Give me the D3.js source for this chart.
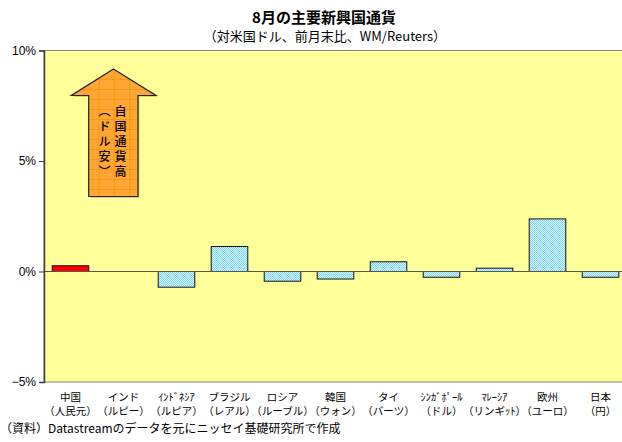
<!DOCTYPE html>
<html>
<head>
<meta charset="utf-8">
<script src="https://cdn.jsdelivr.net/npm/d3@7"></script>
<style>
    body { margin: 0; background: #fff; }
    svg { display: block; }
</style>
</head>
<body>
<div id="chart"></div>
<script>
// data
const countries = ["中国", "インド", "ｲﾝﾄﾞﾈｼｱ", "ブラジル", "ロシア", "韓国", "タイ", "ｼﾝｶﾞﾎﾟｰﾙ", "ﾏﾚｰｼｱ", "欧州", "日本"];
const currencies = ["（人民元）", "（ルピー）", "（ルピア）", "（レアル）", "（ルーブル）", "（ウォン）", "（バーツ）", "（ドル）", "（リンギｯﾄ）", "（ユーロ）", "（円）"];
const changes = [0.26, 0.0, -0.71, 1.13, -0.44, -0.34, 0.44, -0.26, 0.15, 2.38, -0.26];
const yTicks = [-5, 0, 5, 10];

const titleText = "8月の主要新興国通貨";
const subtitleText = "（対米国ドル、前月末比、WM/Reuters）";
const sourceText = "（資料）Datastreamのデータを元にニッセイ基礎研究所で作成";
const arrowRight = "自国通貨高";
const arrowLeft = "（ドル安）";

const
    width = 622,
    height = 442,
    plot = { left: 44, right: 627, top: 50.5, bottom: 382 };

const colors = {
    plotBg: "#ffff99",
    frame: "#808080",
    axis: "#404040",
    china: "#ff0000",
    arrow: "#ffa634",
    arrowGrid: "#f59a10",
    text: "#000"
};

const svg = d3.select("#chart")
    .append("svg")
    .attr("width", width)
    .attr("height", height)
    .attr("viewBox", [0, 0, width, height])
    .style("font-family", "'Liberation Sans', Arial, 'Noto Sans CJK JP', sans-serif");

const defs = svg.append("defs");

// dotted light-blue fill like the excel pattern
const pat = defs.append("pattern")
    .attr("id", "dots")
    .attr("width", 2)
    .attr("height", 2)
    .attr("patternUnits", "userSpaceOnUse");
pat.append("rect").attr("width", 2).attr("height", 2).attr("fill", "#d8f6ff");
pat.append("rect").attr("width", 1).attr("height", 1).attr("fill", "#7fd3f2");
pat.append("rect").attr("x", 1).attr("y", 1).attr("width", 1).attr("height", 1).attr("fill", "#7fd3f2");

const x = d3.scaleBand()
    .domain(countries)
    .range([plot.left, plot.right])
    .paddingInner(0.31)
    .paddingOuter(0.155);

const y = d3.scaleLinear()
    .domain([-5, 10])
    .range([plot.bottom, plot.top]);

// plot area
svg.append("rect")
    .attr("x", plot.left)
    .attr("y", plot.top)
    .attr("width", plot.right - plot.left)
    .attr("height", plot.bottom - plot.top)
    .attr("fill", colors.plotBg)
    .attr("stroke", colors.frame)
    .attr("stroke-width", 1);

// arrow "自国通貨高"
const ax = 113.5;
const arrowPts = [
    [ax, 69], [156, 95.5], [138, 95.5], [138, 196.5],
    [88.7, 196.5], [88.7, 95.5], [71.3, 95.5]
];
defs.append("clipPath").attr("id", "arrowClip")
    .append("polygon").attr("points", arrowPts.map(p => p.join(",")).join(" "));

svg.append("polygon")
    .attr("points", arrowPts.map(p => [p[0] + 1.5, p[1] + 1.5].join(",")).join(" "))
    .attr("fill", "#b8b070")
    .attr("opacity", 0.6);
svg.append("polygon")
    .attr("points", arrowPts.map(p => p.join(",")).join(" "))
    .attr("fill", colors.arrow);

const grid = svg.append("g").attr("clip-path", "url(#arrowClip)")
    .attr("stroke", colors.arrowGrid)
    .attr("stroke-width", 1);
d3.range(69, 200, 15.3).forEach(gx => grid.append("line")
    .attr("x1", gx - 0.5).attr("x2", gx - 0.5).attr("y1", 60).attr("y2", 200));
d3.range(69, 200, 10).forEach(gy => grid.append("line")
    .attr("x1", 60).attr("x2", 160).attr("y1", gy + 0.5).attr("y2", gy + 0.5));

svg.append("polygon")
    .attr("points", arrowPts.map(p => p.join(",")).join(" "))
    .attr("fill", "none")
    .attr("stroke", "#222")
    .attr("stroke-width", 1.2);

[[arrowRight, 120.5], [arrowLeft, 104.5]].forEach(([t, cx]) => {
    svg.append("text")
        .attr("x", cx)
        .attr("y", 105)
        .attr("writing-mode", "vertical-rl")
        .style("font-family", "'Noto Sans CJK JP', sans-serif")
        .style("font-size", "12px")
        .style("font-weight", "500")
        .style("letter-spacing", "3px")
        .attr("fill", colors.text)
        .text(t);
});

// bars
svg.append("g")
    .selectAll("rect")
    .data(countries)
    .join("rect")
    .attr("x", d => x(d))
    .attr("width", x.bandwidth())
    .attr("y", (d, i) => y(Math.max(0, changes[i])))
    .attr("height", (d, i) => Math.abs(y(changes[i]) - y(0)))
    .attr("fill", (d, i) => i === 0 ? colors.china : "url(#dots)")
    .attr("stroke", (d, i) => changes[i] === 0 ? "none" : "#111")
    .attr("stroke-width", 1);

// zero line
svg.append("line")
    .attr("x1", plot.left)
    .attr("x2", plot.right)
    .attr("y1", y(0))
    .attr("y2", y(0))
    .attr("stroke", "#555")
    .attr("stroke-width", 1.2);

// y axis
const yAxis = svg.append("g")
    .attr("transform", `translate(${plot.left},0)`)
    .call(d3.axisLeft(y)
        .tickValues(yTicks)
        .tickSize(5)
        .tickPadding(3)
        .tickFormat(d => (d < 0 ? "\u2212" + Math.abs(d) : d) + "%"));
yAxis.select(".domain").attr("stroke", colors.axis).attr("stroke-width", 1.5);
yAxis.selectAll(".tick line").attr("stroke", colors.axis);
yAxis.selectAll(".tick text")
    .style("font-family", "'Liberation Sans', Arial, sans-serif")
    .style("font-size", "12px")
    .attr("fill", colors.text);

// category labels
const labels = svg.append("g")
    .style("font-family", "'Noto Sans CJK JP', sans-serif")
    .style("font-size", "10.5px")
    .attr("text-anchor", "middle")
    .attr("fill", colors.text);
countries.forEach((c, i) => {
    const cx = x(c) + x.bandwidth() / 2;
    labels.append("text").attr("x", cx).attr("y", 401).text(c);
    labels.append("text").attr("x", cx).attr("y", 415).text(currencies[i]);
});

// titles
svg.append("text")
    .attr("x", 324)
    .attr("y", 23)
    .attr("text-anchor", "middle")
    .style("font-family", "'Noto Sans CJK JP', sans-serif")
    .style("font-size", "15px")
    .style("font-weight", "bold")
    .text(titleText);
svg.append("text")
    .attr("x", 325)
    .attr("y", 41)
    .attr("text-anchor", "middle")
    .style("font-family", "'Noto Sans CJK JP', sans-serif")
    .style("font-size", "13px")
    .text(subtitleText);

svg.append("text")
    .attr("x", 0)
    .attr("y", 433)
    .style("font-family", "'Noto Sans CJK JP', sans-serif")
    .style("font-size", "12px")
    .text(sourceText);
</script>
</body>
</html>
